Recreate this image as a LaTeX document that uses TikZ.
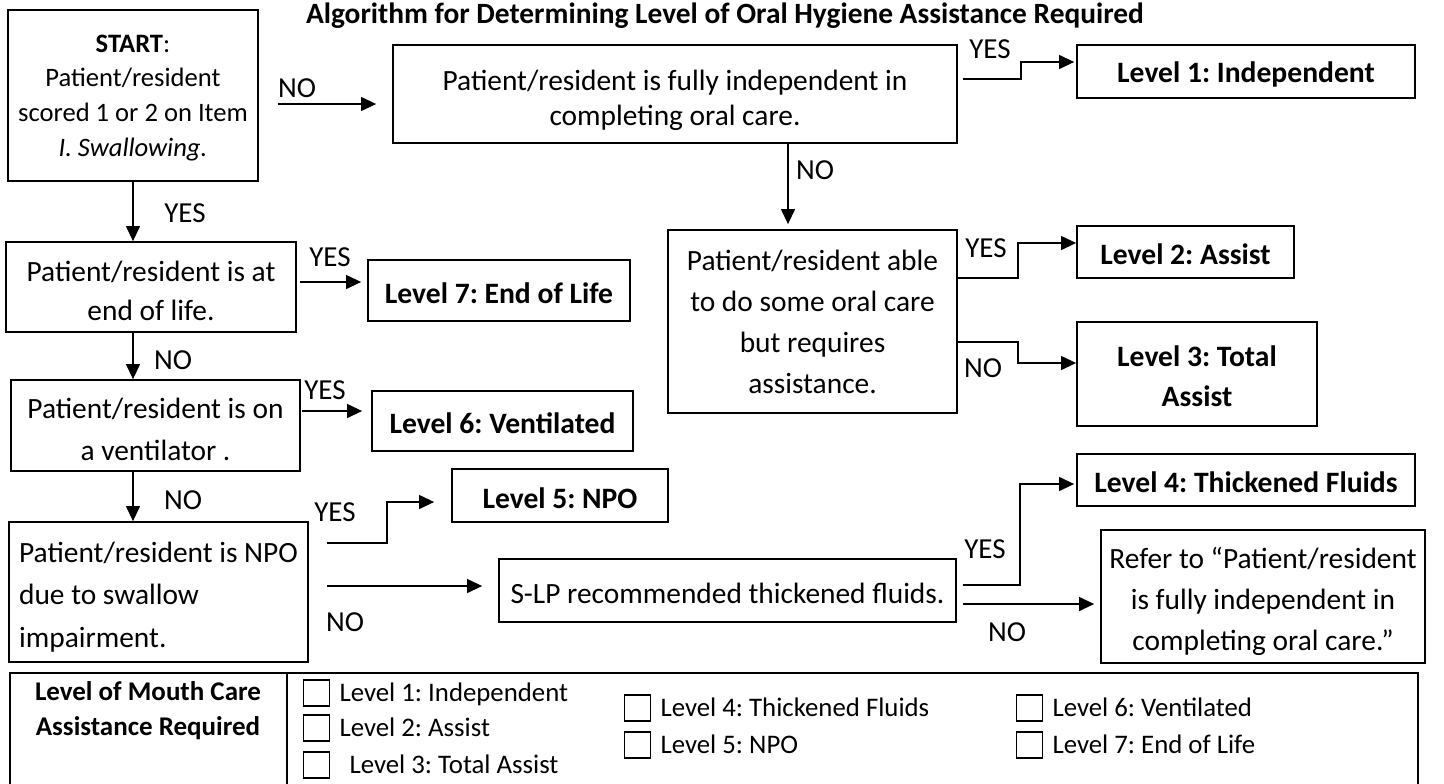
\documentclass[tikz,border=0pt]{standalone}
\usepackage{fontspec}
\setmainfont{Carlito}
\usetikzlibrary{arrows.meta,positioning,calc}
\frenchspacing
\newcommand{\tpad}[1]{\rule{0pt}{#1}}

\begin{document}
\begin{tikzpicture}[x=0.5pt, y=-0.5pt,
  qbox/.style={draw, line width=0.9pt, align=center, inner sep=0pt, font=\fontsize{14.7}{20}\selectfont},
  lvlbox/.style={qbox, font=\bfseries\fontsize{14.8}{20}\selectfont},
  lbl/.style={inner sep=0pt, font=\fontsize{14.5}{17}\selectfont},
  arr/.style={-{Triangle[length=7.5pt, width=7pt]}, line width=0.6pt},
  chk/.style={draw, line width=0.6pt, minimum size=13pt, inner sep=0pt},
  ctext/.style={inner sep=0pt, anchor=west, text height=10pt, text depth=1.6pt, font=\fontsize{13.4}{15}\selectfont},
]
\useasboundingbox[fill=white] (0,0) rectangle (1444,783);

% Title
\node[font=\bfseries\fontsize{14.7}{17}\selectfont] (title) at (725,16) {Algorithm for Determining Level of Oral Hygiene Assistance Required};

% ─── Questions ───
\node[qbox, minimum width=125pt, minimum height=85.5pt, font=\fontsize{13.3}{17.3}\selectfont] (start) at (133,95.5) {\tpad{11pt}\textbf{START}:\\Patient/resident\\scored 1 or 2 on Item\\\textit{I. Swallowing.}};
\node[qbox, minimum width=282pt, minimum height=49pt, font=\fontsize{14.7}{17.5}\selectfont] (indep) at (675,94) {\tpad{17pt}Patient/resident is fully independent in\\completing oral care.};
\node[qbox, minimum width=144.5pt, minimum height=91.5pt, font=\fontsize{14.7}{20.5}\selectfont] (some) at (812.5,321.5) {Patient/resident able\\to do some oral care\\but requires\\assistance.};
\node[qbox, minimum width=145pt, minimum height=45pt, font=\fontsize{14.7}{19.5}\selectfont] (eol) at (151,287) {\tpad{14.5pt}Patient/resident is at\\end of life.};
\node[qbox, minimum width=144.5pt, minimum height=45.5pt, font=\fontsize{14.7}{21}\selectfont] (vent) at (155.5,425.5) {\tpad{14.5pt}Patient/resident is on\\a ventilator .};
\node[qbox, align=left, minimum width=149.5pt, minimum height=70pt, font=\fontsize{14.7}{21.25}\selectfont] (npo) at (158.5,592) {\tpad{15pt}Patient/resident is NPO\\due to swallow\\impairment.};
\node[qbox, minimum width=228.5pt, minimum height=31.5pt] (slp) at (727.5,590.5) {\tpad{13pt}S-LP recommended thickened fluids.};
\node[qbox, minimum width=162pt, minimum height=66.5pt, font=\fontsize{14.7}{20.5}\selectfont] (refer) at (1263,596.5) {\tpad{15.5pt}Refer to “Patient/resident\\is fully independent in\\completing oral care.”};

% ─── Levels ───
\node[lvlbox, minimum width=169pt, minimum height=26.5pt] (lvl1) at (1246,71.5) {\tpad{13pt}Level 1: Independent};
\node[lvlbox, minimum width=108.5pt, minimum height=26pt] (lvl2) at (1185.5,252) {\tpad{13pt}Level 2: Assist};
\node[lvlbox, minimum width=120pt, minimum height=52pt] (lvl3) at (1197,374) {\tpad{13pt}Level 3: Total\\Assist};
\node[lvlbox, minimum width=169pt, minimum height=26pt] (lvl4) at (1246,480) {\tpad{13pt}Level 4: Thickened Fluids};
\node[lvlbox, minimum width=108pt, minimum height=26.5pt] (lvl5) at (560,495.5) {\tpad{13pt}Level 5: NPO};
\node[lvlbox, minimum width=130.5pt, minimum height=30pt] (lvl6) at (502.5,421) {\tpad{13pt}Level 6: Ventilated};
\node[lvlbox, minimum width=131pt, minimum height=30.5pt] (lvl7) at (499,290.5) {\tpad{13pt}Level 7: End of Life};

% ─── Connectors ───
\draw[arr] (start.south) -- (start.south |- eol.north);
\draw[arr] (start.south |- eol.south) -- (start.south |- vent.north);
\draw[arr] (start.south |- vent.south) -- (start.south |- npo.north);
\draw[arr] ($(start.east)+(19,8.5)$) -- ($(indep.west)+(-16,10)$);
\draw[arr] ($(indep.east)+(5,-15)$) -- ++(58,0) |- ($(lvl1.west)+(-2,-9.5)$);
\draw[arr] ($(indep.south)+(113,0)$) -- ($(some.north)+(-24.5,-5)$);
\draw[arr] ($(some.east)+(0,-43.5)$) -- ++(60,0) |- ($(lvl2.west)+(0,-9)$);
\draw[arr] ($(some.east)+(0,20.5)$) -- ++(60,0) |- ($(lvl3.west)+(0,-11)$);
\draw[arr] ($(eol.east)+(3,-5)$) -- ($(lvl7.west)+(-6,-8.5)$);
\draw[arr] ($(vent.east)+(1,-14.5)$) -- ($(lvl6.west)+(-9,-10)$);
\draw[arr] ($(npo.east)+(18,-49)$) -- ++(60,0) |- ($(lvl5.west)+(-17,6.5)$);
\draw[arr] ($(npo.east)+(18,-6)$) -- ($(slp.west)+(-16,-4.5)$);
\draw[arr] ($(slp.east)+(6,-5.5)$) -- ++(57,0) |- ($(lvl4.west)+(-2,4)$);
\draw[arr] ($(slp.east)+(6,13.5)$) -- ($(refer.west)+(-6,7.5)$);

% Branch labels
\node[lbl] (noA) at (297,88) {NO};
\node[lbl] (yesA) at (990,49) {YES};
\node[lbl] (noB) at (815,170) {NO};
\node[lbl] (yesB) at (986,248) {YES};
\node[lbl] (noC) at (983,368) {NO};
\node[lbl] (yesC) at (185,213) {YES};
\node[lbl] (yesD) at (330,257) {YES};
\node[lbl] (noD) at (173,360) {NO};
\node[lbl] (yesE) at (325,390) {YES};
\node[lbl] (noE) at (183,500) {NO};
\node[lbl] (yesF) at (335,512) {YES};
\node[lbl] (noF) at (345,622) {NO};
\node[lbl] (yesG) at (985,549) {YES};
\node[lbl] (noG) at (1007,632) {NO};

% ─── Checklist table ───
\node[draw, line width=1.3pt, minimum width=704pt, minimum height=56pt, inner sep=0pt] (tbl) at (714,729) {};
\coordinate (div) at (287,729);
\draw[line width=1pt] (div |- tbl.north) -- (div |- tbl.south);
\node[align=center, font=\bfseries\fontsize{13.5}{17.5}\selectfont] (thead) at (148,711) {Level of Mouth Care\\Assistance Required};
\foreach \i/\bx/\by/\gap/\txt in {1/316.5/693/9/{Level 1: Independent}, 2/316.5/728/9/{Level 2: Assist}, 3/316.5/765/19/{Level 3: Total Assist}, 4/637.5/708/9/{Level 4: Thickened Fluids}, 5/637.5/745/9/{Level 5: NPO}, 6/1029.5/708/9/{Level 6: Ventilated}, 7/1029.5/745/9/{Level 7: End of Life}} {
  \node[chk] (c\i) at (\bx,\by) {};
  \node[ctext] (t\i) at ($(c\i.east)+(\gap,0)$) {\txt};
}

\end{tikzpicture}
\end{document}
